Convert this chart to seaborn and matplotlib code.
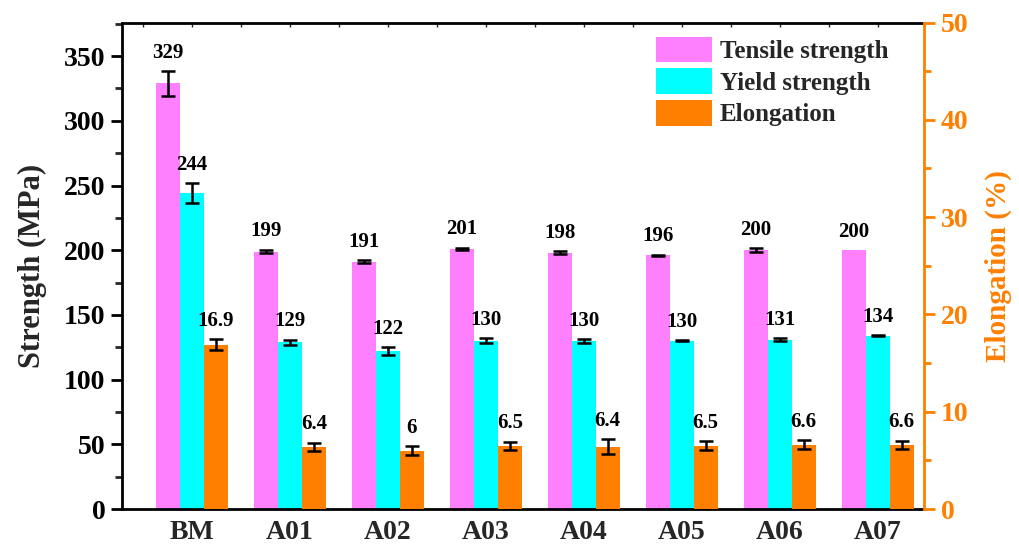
import matplotlib
matplotlib.use("Agg")
import matplotlib.pyplot as plt
import seaborn as sns
import pandas as pd
from matplotlib.container import BarContainer
from matplotlib.ticker import MultipleLocator

# Sample identifiers
samples = ["BM", "A01", "A02", "A03", "A04", "A05", "A06", "A07"]

# Mechanical properties (mean values)
tensile = [329, 199, 191, 201, 198, 196, 200, 200]
yield_s = [244, 129, 122, 130, 130, 130, 131, 134]
elong = [16.9, 6.4, 6, 6.5, 6.4, 6.5, 6.6, 6.6]

# Standard deviations
tensile_err = [9.5, 1.4, 1.2, 1.0, 1.2, 0.5, 1.5, 0.0]
yield_err = [7.6, 2.0, 3.2, 2.0, 1.5, 0.5, 1.2, 0.5]
elong_err = [0.55, 0.41, 0.46, 0.41, 0.75, 0.46, 0.45, 0.41]

series = ["Tensile strength", "Yield strength", "Elongation"]
colors = ["#FF80FF", "#00FFFF", "#FF8000"]

sns.set_style("ticks")
plt.rcParams["font.family"] = ["Liberation Serif", "DejaVu Serif"]
plt.rcParams["font.weight"] = "bold"
plt.rcParams["axes.labelweight"] = "bold"

values = {series[0]: tensile, series[1]: yield_s, series[2]: elong}
errors = {series[0]: tensile_err, series[1]: yield_err, series[2]: elong_err}
on_right = {series[0]: False, series[1]: False, series[2]: True}


def axis_table(right):
    # Every hue level is kept on both axes so the dodge slots line up;
    # series belonging to the other axis are drawn with zero height.
    rows = []
    for name in series:
        for s, v in zip(samples, values[name]):
            rows.append({"sample": s, "series": name,
                         "value": v if on_right[name] == right else 0.0})
    return pd.DataFrame(rows)


fig = plt.figure(figsize=(10.2, 5.45), dpi=100)
ax = fig.add_axes([0.1196, 0.066, 0.7863, 0.8927])
ax2 = ax.twinx()

palette = dict(zip(series, colors))
group_width = 0.735

for axis, right in ((ax, False), (ax2, True)):
    sns.barplot(data=axis_table(right), x="sample", y="value", hue="series",
                hue_order=series, order=samples, palette=palette,
                width=group_width, errorbar=None, legend=False, ax=axis,
                saturation=1, linewidth=0)


def bar_groups(axis):
    return [c for c in axis.containers if isinstance(c, BarContainer)]


bars = {}
for axis in (ax, ax2):
    for cont, name in zip(bar_groups(axis), series):
        if on_right[name] == (axis is ax2):
            bars[name] = (axis, cont)

for name in series:
    axis, cont = bars[name]
    for patch, err, v in zip(cont.patches, errors[name], values[name]):
        xc = patch.get_x() + patch.get_width() / 2
        h = patch.get_height()
        if err > 0:
            axis.errorbar(xc, h, yerr=err, fmt="none", ecolor="black",
                          elinewidth=1.8, capsize=5, capthick=1.8, zorder=5)
        axis.annotate(f"{v:g}", xy=(xc, h + err), xytext=(0, 6),
                      textcoords="offset points", ha="center", va="bottom",
                      fontsize=15, fontweight="bold", color="black")

# Axis limits
ax.set_xlim(-0.714, 7.474)
ax.set_ylim(0, 376)
ax2.set_ylim(0, 50)

# Left axis
ax.yaxis.set_major_locator(MultipleLocator(50))
ax.yaxis.set_minor_locator(MultipleLocator(25))
ax.tick_params(axis="y", which="major", direction="out", length=8, width=2,
               labelsize=20, pad=4, colors="black")
ax.tick_params(axis="y", which="minor", direction="out", length=5, width=2)
ax.set_ylabel("Strength (MPa)", fontsize=22, fontweight="bold", labelpad=12)

# Bottom / top axis
ax.set_xlabel("")
ax.tick_params(axis="x", which="major", bottom=False, top=True, direction="in",
               length=3, width=1, labelsize=20, pad=8)
ax.xaxis.set_minor_locator(MultipleLocator(0.5))
ax.tick_params(axis="x", which="minor", bottom=False, top=True, direction="in",
               length=3, width=1)
for lab in ax.get_xticklabels() + ax.get_yticklabels():
    lab.set_fontweight("bold")

# Right axis
orange = colors[2]
ax2.yaxis.set_major_locator(MultipleLocator(10))
ax2.yaxis.set_minor_locator(MultipleLocator(5))
ax2.tick_params(axis="y", which="major", direction="out", length=8, width=2,
                labelsize=20, pad=4, colors=orange)
ax2.tick_params(axis="y", which="minor", direction="out", length=5, width=2,
                colors=orange)
ax2.set_ylabel("Elongation (%)", fontsize=21, fontweight="bold", color=orange,
               labelpad=12)
for lab in ax2.get_yticklabels():
    lab.set_fontweight("bold")

for side in ["left", "bottom", "top"]:
    ax.spines[side].set_linewidth(2)
    ax.spines[side].set_color("black")
ax.spines["right"].set_visible(False)
for side in ["left", "bottom", "top"]:
    ax2.spines[side].set_visible(False)
ax2.spines["right"].set_visible(True)
ax2.spines["right"].set_linewidth(2)
ax2.spines["right"].set_color(orange)

# Legend
handles = [bars[name][1].patches[0] for name in series]
fig.legend(handles, series, loc="upper left", bbox_to_anchor=(0.643, 0.933),
           frameon=False, prop={"weight": "bold", "size": 18},
           handlelength=2.25, handleheight=1.2, labelspacing=0.22,
           handletextpad=0.3, borderpad=0, borderaxespad=0)

fig.savefig("out.png", dpi=100)
